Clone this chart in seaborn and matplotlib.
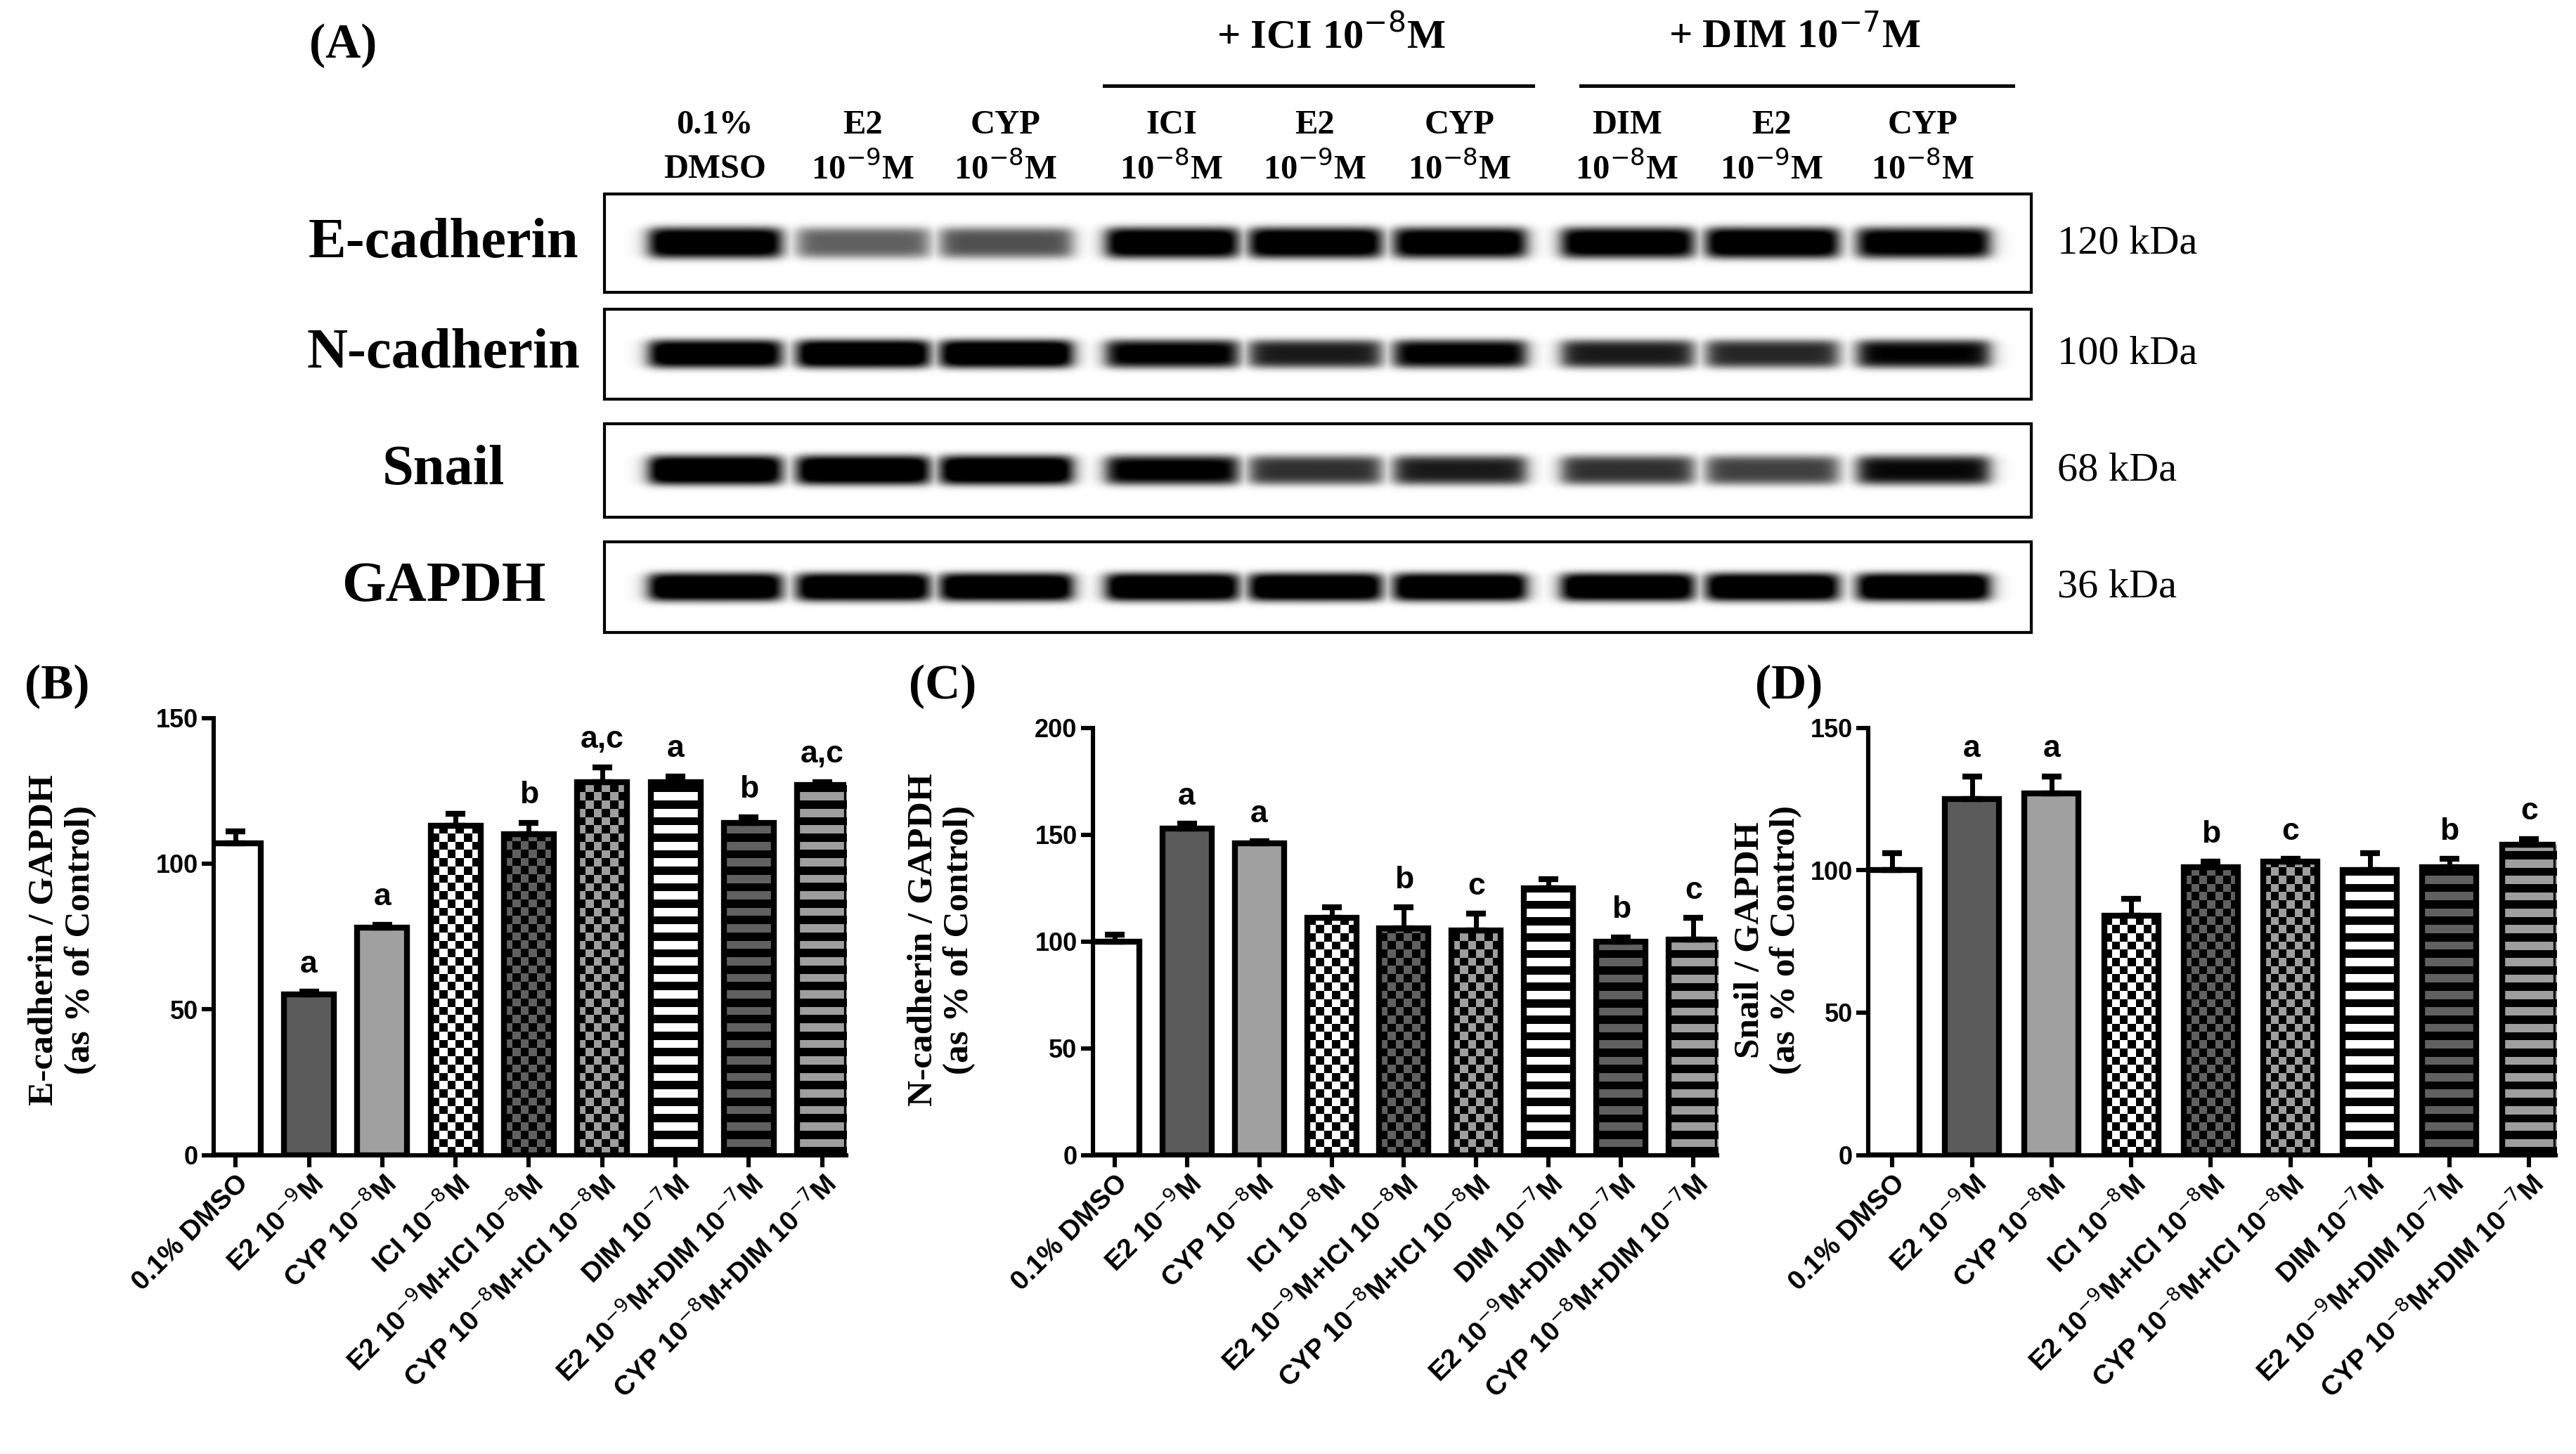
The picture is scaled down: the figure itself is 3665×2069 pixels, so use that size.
import numpy as np
import pandas as pd
import matplotlib
matplotlib.use("Agg")
import matplotlib.pyplot as plt
import seaborn as sns

# ---------------- data ----------------
groups = ["0.1% DMSO", "E2 10$^{-9}$M", "CYP 10$^{-8}$M", "ICI 10$^{-8}$M",
          "E2 10$^{-9}$M+ICI 10$^{-8}$M", "CYP 10$^{-8}$M+ICI 10$^{-8}$M",
          "DIM 10$^{-7}$M", "E2 10$^{-9}$M+DIM 10$^{-7}$M", "CYP 10$^{-8}$M+DIM 10$^{-7}$M"]
ecad_mean = [107, 55, 78, 113, 110, 128, 128, 114, 127]
ecad_err = [4, 1, 1, 4, 4, 5, 2, 2, 1]
ecad_sig = ["", "a", "a", "", "b", "a,c", "a", "b", "a,c"]
ncad_mean = [100, 153, 146, 111, 106, 105, 125, 100, 101]
ncad_err = [3, 2, 1, 5, 10, 8, 4, 2, 10]
ncad_sig = ["", "a", "a", "", "b", "c", "", "b", "c"]
snail_mean = [100, 125, 127, 84, 101, 103, 100, 101, 109]
snail_err = [6, 8, 6, 6, 2, 1, 6, 3, 2]
snail_sig = ["", "a", "a", "", "b", "c", "", "b", "c"]

lane_top = ["0.1%", "E2", "CYP", "ICI", "E2", "CYP", "DIM", "E2", "CYP"]
lane_bot = ["DMSO", "10$^{-9}$M", "10$^{-8}$M", "10$^{-8}$M", "10$^{-9}$M", "10$^{-8}$M",
            "10$^{-8}$M", "10$^{-9}$M", "10$^{-8}$M"]
proteins = ["E-cadherin", "N-cadherin", "Snail", "GAPDH"]
kda = ["120 kDa", "100 kDa", "68 kDa", "36 kDa"]
# band intensities (0-1) per protein per lane
band_ecad = [0.95, 0.5, 0.55, 0.95, 0.95, 0.92, 0.92, 0.97, 0.9]
band_ncad = [0.95, 1.0, 1.0, 0.85, 0.72, 0.85, 0.72, 0.68, 0.8]
band_snail = [1.0, 1.0, 1.0, 0.85, 0.65, 0.72, 0.65, 0.6, 0.78]
band_gapdh = [1.0, 1.0, 1.0, 1.0, 1.0, 1.0, 1.0, 1.0, 1.0]

# ---------------- figure ----------------
W, H = 1568.0, 885.0
fig = plt.figure(figsize=(18.33, 10.345), dpi=200)
serif = "Liberation Serif"
sans = "Liberation Sans"

ov = fig.add_axes([0, 0, 1, 1])
ov.set_xlim(0, W); ov.set_ylim(H, 0); ov.axis("off")

# ---- blot panel ----
lane_x = [435, 525, 612, 713, 800, 888, 990, 1078, 1170]
rows = [(118, 178), (188, 243), (258, 315), (330, 385)]
bands = [band_ecad, band_ncad, band_snail, band_gapdh]
ov.text(188, 28, "(A)", fontsize=25, fontweight="bold", family=serif, va="center")
ov.text(810, 22, "+ ICI 10$^{-8}$M", fontsize=21, fontweight="bold", family=serif, ha="center", va="center")
ov.plot([672, 933], [52, 52], color="black", lw=1.8)
ov.text(1092, 22, "+ DIM 10$^{-7}$M", fontsize=21, fontweight="bold", family=serif, ha="center", va="center")
ov.plot([962, 1225], [52, 52], color="black", lw=1.8)
for x, t, b in zip(lane_x, lane_top, lane_bot):
    ov.text(x, 76, t, fontsize=17.5, fontweight="bold", family=serif, ha="center", va="center")
    ov.text(x, 103, b, fontsize=17.5, fontweight="bold", family=serif, ha="center", va="center")
for (y0, y1), name, kd, inten in zip(rows, proteins, kda, bands):
    xs = np.arange(368, 1236)
    ys = np.arange(y0, y1 + 1)
    X, Y = np.meshgrid(xs, ys)
    img = np.zeros_like(X, dtype=float)
    yc = (y0 + y1) / 2
    for lx, iv in zip(lane_x, inten):
        prof_x = 1 / (1 + np.exp((np.abs(X - lx) - 40) / 3))
        prof_y = np.exp(-((Y - yc) / (0.16 * (y1 - y0))) ** 4)
        img = np.maximum(img, iv * prof_x * prof_y)
    ov.imshow(img, cmap="gray_r", vmin=0, vmax=0.8, extent=(368, 1236, y1, y0),
              aspect="auto", interpolation="bilinear", zorder=1)
    ov.add_patch(plt.Rectangle((368, y0), 868, y1 - y0, fill=False, ec="black", lw=1.5, zorder=2))
    ov.text(270, yc, name, fontsize=29, fontweight="bold", family=serif, ha="center", va="center")
    ov.text(1252, yc, kd, fontsize=21, family=serif, ha="left", va="center")
ov.set_xlim(0, W); ov.set_ylim(H, 0)

# ---------------- bar panels ----------------
def pattern(kind, nx, ny):
    yy, xx = np.mgrid[0:ny, 0:nx]
    if kind == "white":
        v = np.ones((ny, nx))
    elif kind == "dark":
        v = np.full((ny, nx), 0.36)
    elif kind == "light":
        v = np.full((ny, nx), 0.63)
    elif kind.startswith("check"):
        c1 = {"check_w": 1.0, "check_d": 0.38, "check_g": 0.62}[kind]
        v = np.where((xx + yy) % 2 > 0, c1, 0.0)
    else:
        c1 = {"stripe_w": 1.0, "stripe_d": 0.38, "stripe_g": 0.62}[kind]
        v = np.where((yy % 2) > 0, c1, 0.0)
    return np.dstack([v, v, v])

kinds = ["white", "dark", "light", "check_w", "check_d", "check_g", "stripe_w", "stripe_d", "stripe_g"]

panels = [
    ("(B)", [130 / W, 1 - 703 / H, 385 / W, 266 / H], ecad_mean, ecad_err, ecad_sig, 150, [0, 50, 100, 150],
     "E-cadherin / GAPDH\n(as % of Control)", 38, 15),
    ("(C)", [665 / W, 1 - 703 / H, 380 / W, 260 / H], ncad_mean, ncad_err, ncad_sig, 200, [0, 50, 100, 150, 200],
     "N-cadherin / GAPDH\n(as % of Control)", 573, 553),
    ("(D)", [1137 / W, 1 - 703 / H, 418 / W, 260 / H], snail_mean, snail_err, snail_sig, 150, [0, 50, 100, 150],
     "Snail / GAPDH\n(as % of Control)", 1076, 1068),
]

for letter, rect, mean, err, sig, ymax, yt, ylab, lx, tx in panels:
    ax = fig.add_axes(rect)
    df = pd.DataFrame({"g": groups, "v": mean})
    sns.barplot(data=df, x="g", y="v", ax=ax, color="white", width=0.68,
                edgecolor="black", linewidth=3, saturation=1)
    n = len(mean)
    xspan = n - 0.67 + 0.3
    bar_px = 0.68 * rect[2] * W / xspan
    px_per_unit = rect[3] * H / ymax
    cell = 5.0
    nx = max(2, int(round(bar_px / cell)))
    ny = int(round(ymax * px_per_unit / cell))
    for p, k in zip(ax.patches, kinds):
        x0, w = p.get_x(), p.get_width()
        im = ax.imshow(pattern(k, nx, ny), extent=(x0, x0 + w, 0, ymax), aspect="auto",
                       interpolation="nearest", origin="lower", zorder=1.5)
        im.set_clip_path(p)
        p.set_zorder(2); p.set_facecolor("none")
    ax.errorbar(range(n), mean, yerr=[np.zeros(n), err], fmt="none",
                ecolor="black", elinewidth=2.5, capsize=5, capthick=3, zorder=3)
    for i, (m, e, s) in enumerate(zip(mean, err, sig)):
        if s:
            ax.text(i, m + e + ymax * 0.03, s, ha="center", va="bottom", fontsize=16,
                    fontweight="bold", family=sans, clip_on=False)
    ax.set_xlim(-0.3, n - 0.67)
    ax.set_ylim(0, ymax)
    ax.set_yticks(yt)
    ax.set_yticklabels([str(t) for t in yt], fontsize=13, fontweight="bold", family=sans)
    ax.set_xticks(range(n))
    ax.set_xticklabels(groups, rotation=45, ha="right", rotation_mode="anchor",
                       fontsize=14, fontweight="bold", family=sans)
    ax.set_xlabel(""); ax.set_ylabel("")
    for sp in ["top", "right"]:
        ax.spines[sp].set_visible(False)
    for sp in ["left", "bottom"]:
        ax.spines[sp].set_linewidth(2.2)
    ax.tick_params(width=2.2, length=6, pad=2)
    fig.text(lx / W, 1 - 572 / H, ylab, rotation=90, ha="center", va="center",
             fontsize=18.5, fontweight="bold", family=serif, linespacing=1.15)
    fig.text(tx / W, 1 - 418 / H, letter, fontsize=25, fontweight="bold", family=serif, va="center")

fig.savefig("out.png", dpi=200)
